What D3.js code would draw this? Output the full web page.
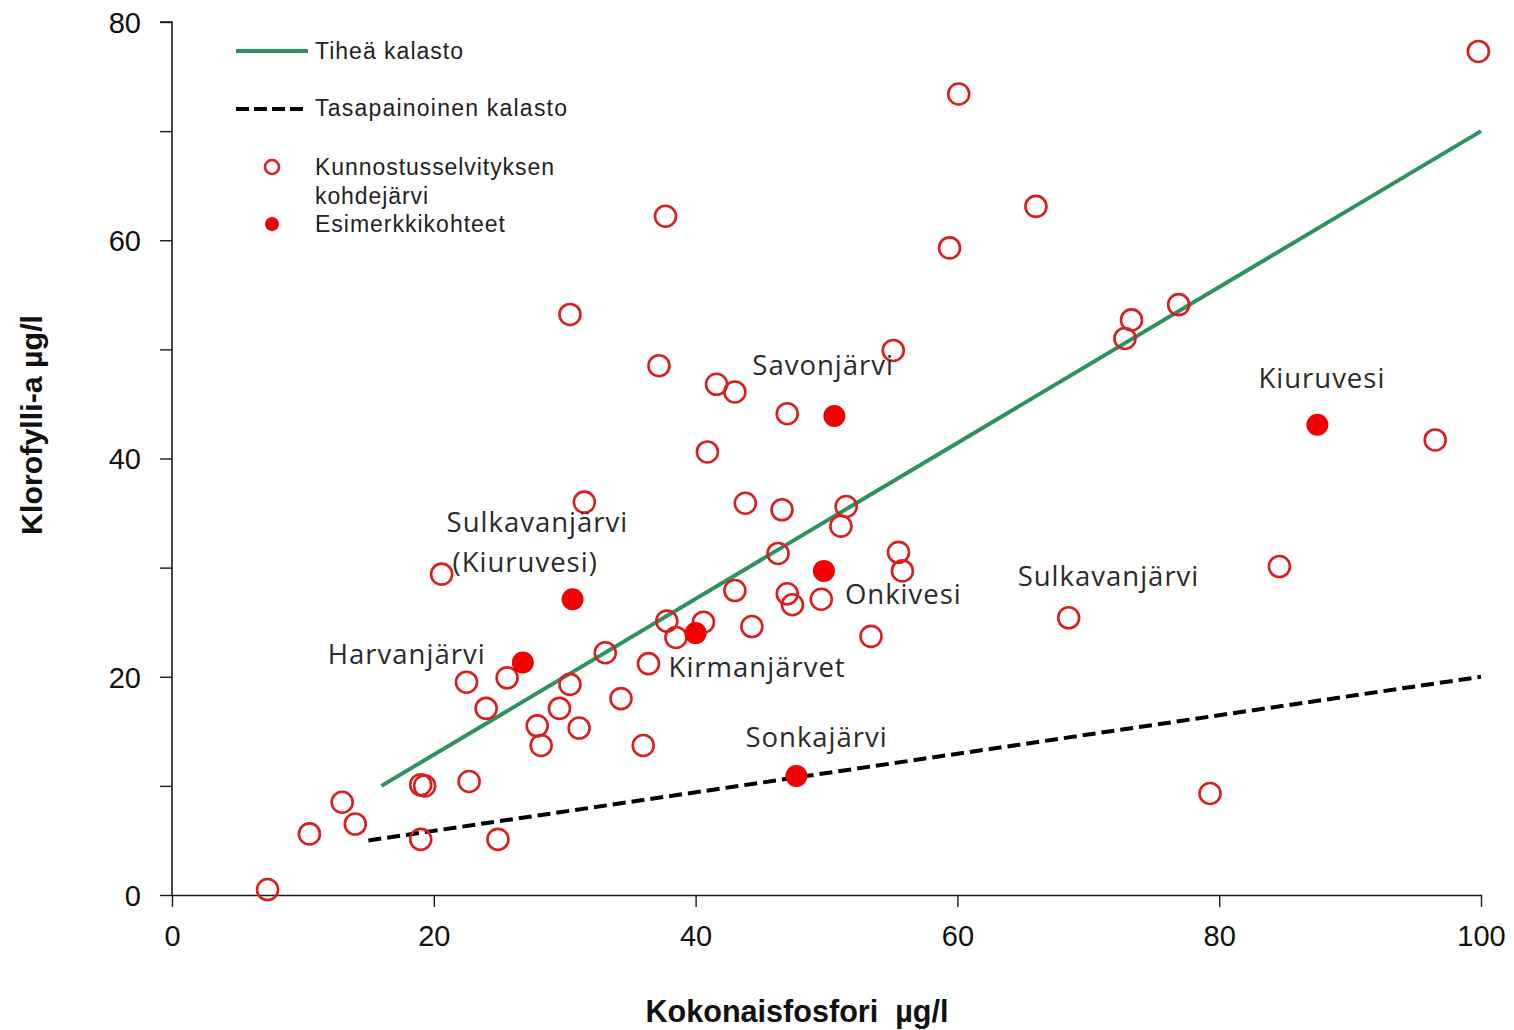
<!DOCTYPE html>
<html>
<head>
<meta charset="utf-8">
<script src="https://cdn.jsdelivr.net/npm/d3@7"></script>
<style>
  html, body { margin: 0; padding: 0; background: #ffffff; }
  svg { display: block; }
</style>
</head>
<body>
<svg id="chart" width="1514" height="1030"></svg>
<script>
// ---------- DATA ----------
// Kunnostusselvityksen kohdejärvet (open circles): total P (µg/l), chlorophyll-a (µg/l)
const surveyP = [7.3, 10.5, 13.0, 14.0, 19.0, 19.0, 19.3, 22.7, 24.9, 20.6, 22.5, 24.0, 25.6, 27.9, 28.2,
  29.6, 30.4, 31.1, 30.4, 31.5, 33.1, 34.3, 36.0, 36.4, 37.2, 37.7, 37.8, 38.5, 40.6, 40.9, 41.6, 43.0,
  43.0, 43.8, 44.3, 46.3, 46.6, 47.0, 47.0, 47.4, 49.6, 51.1, 51.5, 53.4, 55.1, 55.5, 55.8, 59.4, 60.1,
  66.0, 68.5, 72.8, 73.3, 76.9, 79.3, 84.6, 96.5, 99.8];
const surveyChl = [0.5, 5.6, 8.5, 6.5, 5.1, 10.1, 10.0, 10.4, 5.1, 29.4, 19.5, 17.1, 19.9, 15.5, 13.7,
  17.1, 19.3, 15.3, 53.2, 36.0, 22.2, 18.0, 13.7, 21.2, 48.5, 62.2, 25.1, 23.6, 25.0, 40.6, 46.8, 46.1,
  27.9, 35.9, 24.6, 31.3, 35.3, 44.1, 27.6, 26.6, 27.1, 33.8, 35.6, 23.7, 49.9, 31.4, 29.7, 59.3, 73.4,
  63.1, 25.4, 51.0, 52.7, 54.1, 9.3, 30.1, 41.7, 77.3];

// Esimerkkikohteet (filled dots)
const exampleNames = ["Harvanjärvi", "Sulkavanjärvi\n(Kiuruvesi)", "Kirmanjärvet", "Onkivesi", "Savonjärvi", "Sonkajärvi", "Kiuruvesi"];
const exampleP   = [26.8, 30.6, 40.0, 49.8, 50.6, 47.7, 87.5];
const exampleChl = [21.3, 27.1, 24.0, 29.7, 43.9, 10.9, 43.1];

// Extra label for a survey lake
const extraLabelName = "Sulkavanjärvi";
const extraLabelP = 68.5, extraLabelChl = 25.4;

// Reference lines
const denseFishP   = [16, 100];   // Tiheä kalasto
const denseFishChl = [10, 70];
const balancedP    = [15, 100];   // Tasapainoinen kalasto
const balancedChl  = [5, 20];

const xTicks = [0, 20, 40, 60, 80, 100];
const yTicks = [0, 10, 20, 30, 40, 50, 60, 70, 80];
const yTickLabels = [0, 20, 40, 60, 80];

const xTitle = "Kokonaisfosfori  µg/l";
const yTitle = "Klorofylli-a µg/l";
const legendItems = ["Tiheä kalasto", "Tasapainoinen kalasto", "Kunnostusselvityksen", "kohdejärvi", "Esimerkkikohteet"];

// ---------- DRAW ----------
const svg = d3.select("#chart");
const x = d3.scaleLinear().domain([0, 100]).range([172, 1481]);
const y = d3.scaleLinear().domain([0, 80]).range([895, 22]);

const axisColor = "#1a1a1a";
const openRed = "#d81e1e";
const fillRed = "#f00000";
const green = "#2e9160";
const axisFont = "'Liberation Sans', Arial, sans-serif";
const labelFont = "'Open Sans', 'Noto Sans', sans-serif";

// Y axis
const yAxis = svg.append("g").attr("transform", `translate(${x(0)},0)`)
  .call(d3.axisLeft(y).tickValues(yTicks).tickSize(12).tickFormat(d => yTickLabels.includes(d) ? d : ""));
yAxis.select(".domain").attr("stroke", axisColor).attr("stroke-width", 1.6).attr("d", `M-12,${y(80)}H0V${y(0)}`);
yAxis.selectAll(".tick line").attr("stroke", axisColor).attr("stroke-width", 1.4);
yAxis.selectAll(".tick text").attr("font-family", axisFont).attr("font-size", 29).attr("fill", "#111")
  .attr("x", -31).attr("dy", "0.36em");

// X axis
const xAxis = svg.append("g").attr("transform", `translate(0,${y(0)})`)
  .call(d3.axisBottom(x).tickValues(xTicks).tickSize(12).tickSizeOuter(0));
xAxis.select(".domain").attr("stroke", axisColor).attr("stroke-width", 1.6);
xAxis.selectAll(".tick line").attr("stroke", axisColor).attr("stroke-width", 1.4);
xAxis.selectAll(".tick text").attr("font-family", axisFont).attr("font-size", 29).attr("fill", "#111")
  .attr("y", 30).attr("dy", "0.71em");

// Axis titles
svg.append("text").attr("x", 797).attr("y", 1022).attr("text-anchor", "middle")
  .attr("font-family", axisFont).attr("font-size", 31).attr("font-weight", "bold").attr("fill", "#111")
  .attr("textLength", 303).attr("lengthAdjust", "spacingAndGlyphs").attr("xml:space", "preserve")
  .style("white-space", "pre").text(xTitle);
svg.append("text").attr("transform", "translate(42,425) rotate(-90)").attr("text-anchor", "middle")
  .attr("font-family", axisFont).attr("font-size", 30).attr("font-weight", "bold").attr("fill", "#111")
  .attr("textLength", 220).attr("lengthAdjust", "spacingAndGlyphs").text(yTitle);

// Reference lines
const line = d3.line().x(d => x(d[0])).y(d => y(d[1]));
svg.append("path").datum(d3.zip(denseFishP, denseFishChl)).attr("d", line)
  .attr("fill", "none").attr("stroke", green).attr("stroke-width", 4);
svg.append("path").datum(d3.zip(balancedP, balancedChl)).attr("d", line)
  .attr("fill", "none").attr("stroke", "#000").attr("stroke-width", 4).attr("stroke-dasharray", "13,6");

// Open circles
svg.append("g").selectAll("circle").data(d3.zip(surveyP, surveyChl)).join("circle")
  .attr("cx", d => x(d[0])).attr("cy", d => y(d[1])).attr("r", 10.5)
  .attr("fill", "none").attr("stroke", openRed).attr("stroke-width", 2.6);

// Filled dots
const ex = d3.zip(exampleNames, exampleP, exampleChl);
svg.append("g").selectAll("circle").data(ex).join("circle")
  .attr("cx", d => x(d[1])).attr("cy", d => y(d[2])).attr("r", 11)
  .attr("fill", fillRed);

// Labels (pixel offsets from their points)
const labelOffsets = {
  "Harvanjärvi": [-195, 1],
  "Sulkavanjärvi\n(Kiuruvesi)": [-126, -67],
  "Kirmanjärvet": [-27, 44],
  "Onkivesi": [21, 33],
  "Savonjärvi": [-82, -41],
  "Sonkajärvi": [-51, -29],
  "Kiuruvesi": [-59, -37]
};
const labelG = svg.append("g").attr("font-family", labelFont).attr("font-size", 27.5)
  .attr("letter-spacing", 1).attr("fill", "#2a2a2a");
ex.forEach(d => {
  const off = labelOffsets[d[0]];
  const lines = d[0].split("\n");
  const t = labelG.append("text").attr("x", x(d[1]) + off[0]).attr("y", y(d[2]) + off[1]);
  lines.forEach((s, i) => {
    t.append("tspan").attr("x", x(d[1]) + off[0] + (i ? 6 : 0)).attr("dy", i ? 40 : 0).text(s);
  });
});
labelG.append("text").attr("x", x(extraLabelP) - 51).attr("y", y(extraLabelChl) - 32).text(extraLabelName);

// Legend
const lg = svg.append("g").attr("font-family", axisFont).attr("font-size", 23).attr("fill", "#222");
lg.append("line").attr("x1", 236).attr("x2", 308).attr("y1", 51).attr("y2", 51).attr("stroke", green).attr("stroke-width", 4);
lg.append("line").attr("x1", 236).attr("x2", 308).attr("y1", 109).attr("y2", 109).attr("stroke", "#000").attr("stroke-width", 4).attr("stroke-dasharray", "13,5");
lg.append("circle").attr("cx", 272).attr("cy", 167).attr("r", 7).attr("fill", "none").attr("stroke", openRed).attr("stroke-width", 2.6);
lg.append("circle").attr("cx", 272).attr("cy", 224).attr("r", 7).attr("fill", fillRed);
const legendY = [51, 108, 167, 196, 224];
const legendW = [148, 252, 239, 113, 190];
legendItems.forEach((s, i) => {
  lg.append("text").attr("x", 315).attr("y", legendY[i]).attr("dy", "0.36em")
    .attr("textLength", legendW[i]).attr("lengthAdjust", "spacing").text(s);
});
</script>
</body>
</html>
